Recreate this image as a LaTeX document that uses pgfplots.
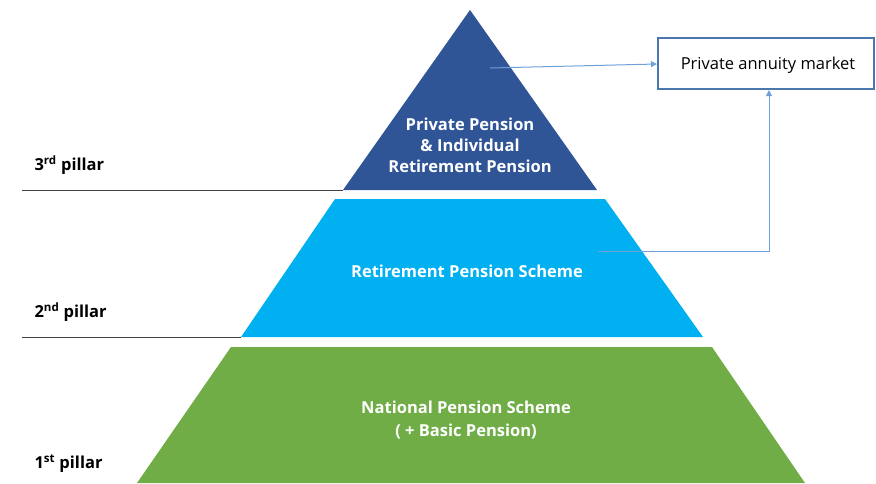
\documentclass[border=0pt]{standalone}
\usepackage{pgfplots}
\pgfplotsset{compat=1.18}
\usepackage{fontspec}
\setmainfont{Open Sans}
\usetikzlibrary{arrows.meta}
\definecolor{tierA}{HTML}{2F5597}
\definecolor{tierB}{HTML}{00B0F0}
\definecolor{tierC}{HTML}{70AD47}
\definecolor{linkblue}{HTML}{6FA0D8}
\definecolor{boxblue}{HTML}{4A78AE}
\definecolor{rule}{HTML}{404040}
\begin{document}
\begin{tikzpicture}
\begin{axis}[name=ax,
  width=876pt, height=483pt, scale only axis,
  xmin=0, xmax=876, ymin=0, ymax=483, y dir=reverse,
  hide axis, clip=false]
% pyramid tiers
\addplot[fill=tierA, draw=none] coordinates {(470,10) (597,190) (343,190)} -- cycle;
\addplot[fill=tierB, draw=none] coordinates {(335,199) (605,199) (703,337) (241,337)} -- cycle;
\addplot[fill=tierC, draw=none] coordinates {(231,347) (712,347) (805,483) (137,483)} -- cycle;
% pillar rules
\addplot[rule, line width=1pt] coordinates {(22,190) (343,190)};
\addplot[rule, line width=1pt] coordinates {(22,337) (241,337)};
% annuity box
\addplot[boxblue, line width=1.3pt] coordinates {(658,38) (874,38) (874,89) (658,89)} -- cycle;
% links
\addplot[linkblue, line width=1pt, -{Triangle[length=6pt,width=6pt]}] coordinates {(490,68) (657,64)};
\addplot[linkblue, line width=1pt, -{Triangle[length=6pt,width=6pt]}] coordinates {(598,251) (769,251) (769,90)};
% texts
\node[font=\fontsize{16.5}{21}\selectfont\bfseries, text=white, align=center] at (axis cs:470,145) {Private Pension\\\& Individual\\Retirement Pension};
\node[font=\fontsize{16.5}{21}\selectfont\bfseries, text=white] at (axis cs:467,271) {Retirement Pension Scheme};
\node[font=\fontsize{16.5}{23}\selectfont\bfseries, text=white, align=center] at (axis cs:466,420) {National Pension Scheme\\( + Basic Pension)};
\node[font=\fontsize{16.5}{18}\selectfont] at (axis cs:768,65) {Private annuity market};
\node[font=\fontsize{16.5}{18}\selectfont\bfseries, anchor=west] at (axis cs:31,165) {3\textsuperscript{rd} pillar};
\node[font=\fontsize{16.5}{18}\selectfont\bfseries, anchor=west] at (axis cs:31,312) {2\textsuperscript{nd} pillar};
\node[font=\fontsize{16.5}{18}\selectfont\bfseries, anchor=west] at (axis cs:31,464) {1\textsuperscript{st} pillar};
\end{axis}
\path (ax.south west) rectangle (ax.north east);
\end{tikzpicture}
\end{document}
